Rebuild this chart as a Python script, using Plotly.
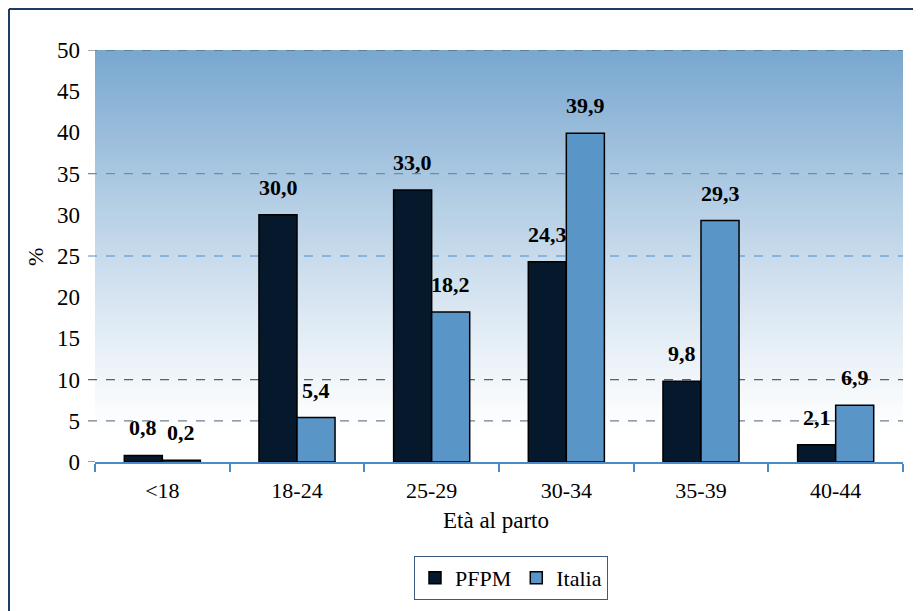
import plotly.graph_objects as go

categories = ["<18", "18-24", "25-29", "30-34", "35-39", "40-44"]
pfpm = [0.8, 30.0, 33.0, 24.3, 9.8, 2.1]
italia = [0.2, 5.4, 18.2, 39.9, 29.3, 6.9]
y_ticks = [0, 5, 10, 15, 20, 25, 30, 35, 40, 45, 50]

FONT = "Times New Roman, Liberation Serif, serif"
NAVY = "#06182b"
BLUE = "#5a95c8"
FRAME = "#1f3d63"

# the page body has an 8px margin, so the figure is drawn 8px in
OFF = 8
W, H = 921 - OFF, 611 - OFF
# plot area in page px: x 95..903, y 50..462
L, R, T, B = 95 - OFF, 921 - 903, 50 - OFF, 611 - 462
PW, PH = W - L - R, H - T - B


def px_x(px):
    return (px - OFF - L) / PW


def px_y(py):
    return (H - B - (py - OFF)) / PH


fig = go.Figure()
fig.add_trace(go.Bar(
    x=categories, y=pfpm, name="PFPM",
    marker=dict(color=NAVY, line=dict(color="black", width=1.5)),
    hoverinfo="skip",
))
fig.add_trace(go.Bar(
    x=categories, y=italia, name="Italia",
    marker=dict(color=BLUE, line=dict(color="black", width=1.5)),
    hoverinfo="skip",
))

shapes = []
# gradient background: blue at top fading to white near the bottom
top = (120, 167, 207)
n = 160
fade_end = 0.07
step = (1 - fade_end) / n
for i in range(n):
    y0 = fade_end + step * i
    t = ((i + 0.5) / n) ** 1.15
    c = tuple(round(255 + (tc - 255) * t) for tc in top)
    shapes.append(dict(
        type="rect", xref="paper", yref="paper", x0=0, x1=1,
        y0=y0, y1=min(1, y0 + step * 2.5),
        fillcolor="rgb(%d,%d,%d)" % c, line=dict(width=0), layer="below",
    ))

# dashed gridlines (only some are visible in the original)
for val, col in ((50, "#4b5866"), (35, "#5e8fbd"), (25, "#4a8bcb"),
                 (10, "#56606c"), (5, "#6f7f8f")):
    shapes.append(dict(
        type="line", xref="paper", yref="y", x0=px_x(88), x1=1, y0=val, y1=val,
        line=dict(color=col, width=1.2, dash="dash"), layer="below",
    ))
# small tick at zero
shapes.append(dict(
    type="line", xref="paper", yref="y", x0=px_x(88), x1=0, y0=0, y1=0,
    line=dict(color="#4a8ac8", width=1.5), layer="above",
))

# outer frame (top and left edges)
shapes.append(dict(type="line", xref="paper", yref="paper",
                   x0=px_x(OFF + 1), x1=px_x(930), y0=px_y(OFF + 1), y1=px_y(OFF + 1),
                   line=dict(color=FRAME, width=2)))
shapes.append(dict(type="line", xref="paper", yref="paper",
                   x0=px_x(OFF + 1), x1=px_x(OFF + 1), y0=px_y(OFF + 1), y1=px_y(620),
                   line=dict(color=FRAME, width=2)))

annotations = []
for series, shift in ((pfpm, -19), (italia, 19)):
    for cat, v in zip(categories, series):
        annotations.append(dict(
            x=cat, y=v, xref="x", yref="y", xshift=shift, yshift=13,
            text=f"{v:.1f}".replace(".", ","), showarrow=False,
            xanchor="center", yanchor="bottom",
            font=dict(family=FONT, size=22, color="black", weight="bold"),
        ))
annotations.append(dict(
    x=px_x(35), y=px_y(257), xref="paper", yref="paper", text="%",
    textangle=-90, showarrow=False, xanchor="center", yanchor="middle",
    font=dict(family=FONT, size=22, color="black"),
))
annotations.append(dict(
    x=px_x(496), y=px_y(520), xref="paper", yref="paper", text="Età al parto",
    showarrow=False, xanchor="center", yanchor="middle",
    font=dict(family=FONT, size=23, color="black"),
))

fig.update_layout(
    width=W, height=H,
    margin=dict(l=L, r=R, t=T, b=B, autoexpand=False),
    paper_bgcolor="white", plot_bgcolor="white",
    barmode="group", bargap=0.435, bargroupgap=0,
    font=dict(family=FONT, size=22, color="black"),
    shapes=shapes, annotations=annotations,
    showlegend=True,
    legend=dict(
        orientation="h", x=px_x(511), y=px_y(578), xanchor="center",
        yanchor="middle", bordercolor="#3a5a80", borderwidth=1,
        bgcolor="white", font=dict(family=FONT, size=22, color="black"),
        itemwidth=30, tracegroupgap=0,
    ),
    xaxis=dict(
        showline=True, linecolor="#4a8ac8", linewidth=1.5,
        ticks="outside", tickson="boundaries", ticklen=8, tickcolor="#4a8ac8",
        tickwidth=1.5, ticklabelstandoff=8, showgrid=False,
        tickfont=dict(family=FONT, size=22, color="black"),
    ),
    yaxis=dict(
        range=[0, 50], tickvals=y_ticks, showgrid=False, zeroline=False,
        showline=False, ticks="", ticklabelstandoff=14,
        tickfont=dict(family=FONT, size=23, color="black"),
    ),
)

fig.write_html("out.html")
